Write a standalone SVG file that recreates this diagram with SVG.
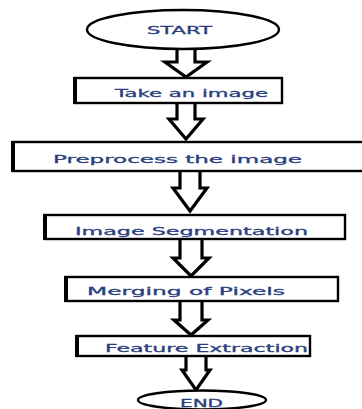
<svg xmlns="http://www.w3.org/2000/svg" width="362" height="409" viewBox="0 0 362 409">
<style>
.box{fill:#fff;stroke:#000;stroke-width:2.4}
.edge{stroke:#000;stroke-width:4}
.oval{fill:#fff;stroke:#000;stroke-width:2.4}
.arrow{fill:#fff;stroke:#000;stroke-width:3.2;stroke-linejoin:miter}
.t{font-family:"DejaVu Sans",Verdana,sans-serif;font-size:11px;fill:#2b3f7e;stroke:#2b3f7e;stroke-width:0.3}
</style>
<rect width="362" height="409" fill="#fff"/>
<g id="connectors">
<path class="arrow" d="M177,49 V62 H165 L186,77 L207,62 H195 V49"/>
<path class="arrow" d="M177,103 V119 H169 L186,139 L203,119 H195 V103"/>
<path class="arrow" d="M180,171 V188 H173 L190,211 L207,188 H200 V171"/>
<path class="arrow" d="M180,240 V258 H173 L191,276 L209,258 H202 V240"/>
<path class="arrow" d="M180,301 V320 H174 L191,335 L208,320 H202 V301"/>
<path class="arrow" d="M186,356 V370 H182 L196,390 L210,370 H206 V356"/>
</g>
<g id="start">
<ellipse class="oval" cx="183" cy="29.5" rx="96" ry="19.5"/>
<text class="t" x="179.5" y="34" text-anchor="middle" textLength="65" lengthAdjust="spacingAndGlyphs">START</text>
</g>
<g id="take">
<rect class="box" x="75" y="78" width="207" height="25"/>
<line class="edge" x1="75" y1="77" x2="75" y2="104"/>
<text class="t" x="115" y="97" textLength="153" lengthAdjust="spacingAndGlyphs">Take an image</text>
</g>
<g id="preprocess">
<rect class="box" x="13" y="142" width="360" height="29"/>
<line class="edge" x1="13" y1="141" x2="13" y2="172"/>
<text class="t" x="53" y="163" textLength="249" lengthAdjust="spacingAndGlyphs">Preprocess the image</text>
</g>
<g id="segmentation">
<rect class="box" x="45" y="215" width="300" height="24"/>
<line class="edge" x1="45" y1="214" x2="45" y2="240"/>
<text class="t" x="75" y="235" textLength="233" lengthAdjust="spacingAndGlyphs">Image Segmentation</text>
</g>
<g id="merging">
<rect class="box" x="66" y="277" width="272" height="24"/>
<line class="edge" x1="66" y1="276" x2="66" y2="302"/>
<text class="t" x="87" y="295" textLength="198" lengthAdjust="spacingAndGlyphs">Merging of Pixels</text>
</g>
<g id="feature">
<rect class="box" x="77" y="336" width="233" height="20"/>
<line class="edge" x1="77" y1="335" x2="77" y2="357"/>
<text class="t" x="105" y="352" textLength="203" lengthAdjust="spacingAndGlyphs">Feature Extraction</text>
</g>
<g id="end">
<ellipse class="oval" cx="202" cy="400" rx="64" ry="9.5"/>
<text class="t" x="201.5" y="407" text-anchor="middle" textLength="43" lengthAdjust="spacingAndGlyphs">END</text>
</g>
</svg>
